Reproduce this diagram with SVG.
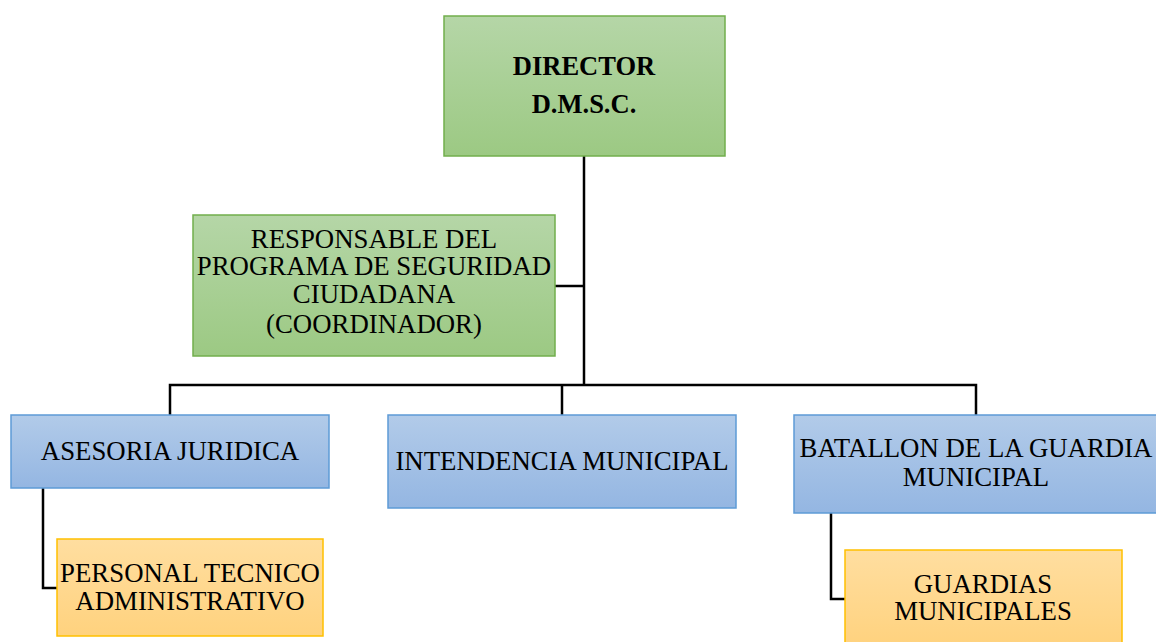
<svg xmlns="http://www.w3.org/2000/svg" width="1156" height="642" viewBox="0 0 1156 642">
<defs>
<linearGradient id="gGreen" x1="0" y1="0" x2="0" y2="1"><stop offset="0" stop-color="#b5d6a7"/><stop offset="1" stop-color="#9cc983"/></linearGradient>
<linearGradient id="gBlue" x1="0" y1="0" x2="0" y2="1"><stop offset="0" stop-color="#b2cbe9"/><stop offset="1" stop-color="#94b6e2"/></linearGradient>
<linearGradient id="gOrange" x1="0" y1="0" x2="0" y2="1"><stop offset="0" stop-color="#ffdea0"/><stop offset="1" stop-color="#ffd27e"/></linearGradient>
<style>
.green{fill:url(#gGreen);stroke:#72ae4c;stroke-width:1.5}
.blue{fill:url(#gBlue);stroke:#5d9bd6;stroke-width:1.5}
.orange{fill:url(#gOrange);stroke:#ffc000;stroke-width:1.5}
text{font-family:"Liberation Serif","Times New Roman",serif;font-size:26.8px;fill:#000;text-anchor:middle}
.b{font-weight:bold;font-size:26.5px}
.conn{fill:none;stroke:#000;stroke-width:2.5}
</style>
</defs>
<rect width="1156" height="642" fill="#fff"/>
<g id="connectors">
<path class="conn" d="M584 156 V385"/>
<path class="conn" d="M555 286 H584"/>
<path class="conn" d="M170 415 V385 H976 V415"/>
<path class="conn" d="M562 385 V415"/>
<path class="conn" d="M43 488 V588 H57"/>
<path class="conn" d="M831 513 V599 H845"/>
</g>
<g id="director">
<rect class="green" x="444" y="16" width="281" height="140"/>
<text class="b" x="584" y="75">DIRECTOR</text>
<text class="b" x="584" y="113">D.M.S.C.</text>
</g>
<g id="responsable">
<rect class="green" x="193" y="215" width="362" height="141"/>
<text x="374" y="248">RESPONSABLE DEL</text>
<text x="374" y="275">PROGRAMA DE SEGURIDAD</text>
<text x="374" y="303">CIUDADANA</text>
<text x="374" y="333">(COORDINADOR)</text>
</g>
<g id="asesoria">
<rect class="blue" x="11" y="415" width="318" height="73"/>
<text x="170" y="460">ASESORIA JURIDICA</text>
</g>
<g id="personal">
<rect class="orange" x="57" y="539" width="266" height="97"/>
<text x="190" y="582">PERSONAL TECNICO</text>
<text x="190" y="610">ADMINISTRATIVO</text>
</g>
<g id="intendencia">
<rect class="blue" x="388" y="415" width="348" height="93"/>
<text x="562" y="470">INTENDENCIA MUNICIPAL</text>
</g>
<g id="batallon">
<rect class="blue" x="794" y="415" width="366" height="98"/>
<text x="976" y="457">BATALLON DE LA GUARDIA</text>
<text x="976" y="486">MUNICIPAL</text>
</g>
<g id="guardias">
<rect class="orange" x="845" y="550" width="277" height="96"/>
<text x="983" y="593">GUARDIAS</text>
<text x="983" y="620">MUNICIPALES</text>
</g>
</svg>
